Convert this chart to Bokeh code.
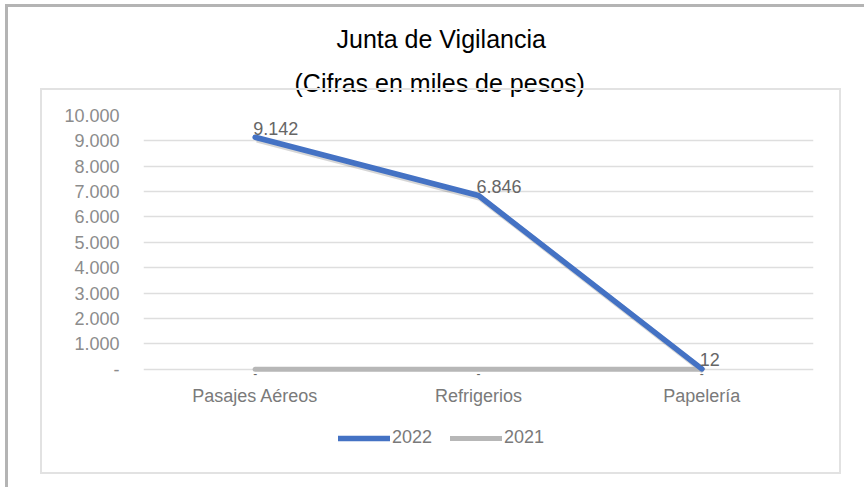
from bokeh.plotting import figure
from bokeh.models import (ColumnDataSource, FixedTicker, Title, Legend, LegendItem,
                          InlineStyleSheet)
from bokeh.core.properties import value
from bokeh.transform import dodge
from bokeh.embed import file_html
from bokeh.resources import INLINE

categories = ["Pasajes Aéreos", "Refrigerios", "Papelería"]
values_2022 = [9142, 6846, 12]
values_2021 = [0, 0, 0]
labels_2022 = ["9.142", "6.846", "12"]
labels_2021 = ["-", "-", "-"]
y_ticks = [0, 1000, 2000, 3000, 4000, 5000, 6000, 7000, 8000, 9000, 10000]
y_tick_labels = ["-", "1.000", "2.000", "3.000", "4.000", "5.000",
                 "6.000", "7.000", "8.000", "9.000", "10.000"]
title_line1 = "Junta de Vigilancia"
title_line2 = "(Cifras en miles de pesos)"

FONT = "Liberation Sans"

src = ColumnDataSource(dict(cat=categories, v22=values_2022, v21=values_2021,
                            shadow=[v - 90 for v in values_2022],
                            l22=labels_2022, l21=labels_2021))

css = InlineStyleSheet(css="""
:host::before { content: ''; position: absolute; left: 5px; top: 4px; z-index: 5;
  width: 856px; height: 483px; border-top: 3px solid #b4b4b4;
  border-left: 3px solid #b4b4b4; pointer-events: none; }
:host::after { content: ''; position: absolute; left: 40px; top: 88px; z-index: 5;
  width: 797px; height: 382px; border: 2px solid #e2e2e2; pointer-events: none; }
""")

# frame spans from the 10.000 gridline down to the legend row
p = figure(x_range=categories, y_range=(-3600, 10000), width=857, height=479,
           output_backend="svg", toolbar_location=None,
           min_border_left=143, min_border_right=44,
           min_border_top=115, min_border_bottom=19,
           outline_line_color=None, background_fill_color="white",
           border_fill_color="white")
p.stylesheets = [css]
p.title = None

t2 = Title(text=title_line2, align="left", offset=151, text_font=FONT,
           text_font_size="25px", text_font_style="normal", text_color="black",
           standoff=38)
t1 = Title(text=title_line1, align="left", offset=193, text_font=FONT,
           text_font_size="25px", text_font_style="normal", text_color="black",
           standoff=-11)
p.add_layout(t2, "above")
p.add_layout(t1, "above")

# axes
p.yaxis.ticker = FixedTicker(ticks=y_ticks)
p.yaxis.major_label_overrides = {t: l for t, l in zip(y_ticks, y_tick_labels)}
for ax in (p.xaxis, p.yaxis):
    ax.axis_line_color = None
    ax.major_tick_line_color = None
    ax.minor_tick_line_color = None
    ax.major_tick_out = 0
    ax.major_tick_in = 0
    ax.minor_tick_out = 0
    ax.minor_tick_in = 0
    ax.major_label_text_font = FONT
    ax.major_label_text_font_size = "18px"
p.yaxis.major_label_text_color = "#8c8c8c"
p.yaxis.major_label_standoff = 24
p.xaxis.major_label_text_color = "#7a7a7a"
p.xaxis.major_label_standoff = -75

p.xgrid.grid_line_color = None
p.ygrid.grid_line_color = "#dedede"
p.ygrid.grid_line_width = 1.5
p.ygrid.ticker = FixedTicker(ticks=y_ticks)

# shadow of 2022 line
p.line(x=dodge("cat", 0.008, range=p.x_range), y="shadow", source=src,
       line_color="#303030", line_alpha=0.2, line_width=6, line_join="round")

r21 = p.line(x="cat", y="v21", source=src, line_color="#b7b7b7", line_width=5,
             line_cap="round", line_join="round")
r22 = p.line(x="cat", y="v22", source=src, line_color="#4472c4", line_width=5.5,
             line_cap="round", line_join="round")

# data labels
p.text(x="cat", y="v22", text="l22", source=src, text_font=value(FONT),
       text_font_size="18px", text_color="#666666", text_align="left",
       text_baseline="alphabetic", x_offset=-2, y_offset=-9)
p.text(x="cat", y="v21", text="l21", source=src, text_font=value(FONT),
       text_font_size="12px", text_color="#666666", text_align="center",
       text_baseline="middle", y_offset=4)

legend = Legend(items=[LegendItem(label="2022", renderers=[r22]),
                       LegendItem(label="2021", renderers=[r21])],
                orientation="horizontal", location=(195, 12),
                glyph_width=52, glyph_height=20, label_standoff=2, spacing=18,
                padding=0, margin=0, border_line_color=None,
                background_fill_alpha=0, label_text_font=FONT,
                label_text_font_size="18px", label_text_color="#7a7a7a")
p.add_layout(legend, "center")

open("out.html", "w").write(file_html(p, INLINE))
